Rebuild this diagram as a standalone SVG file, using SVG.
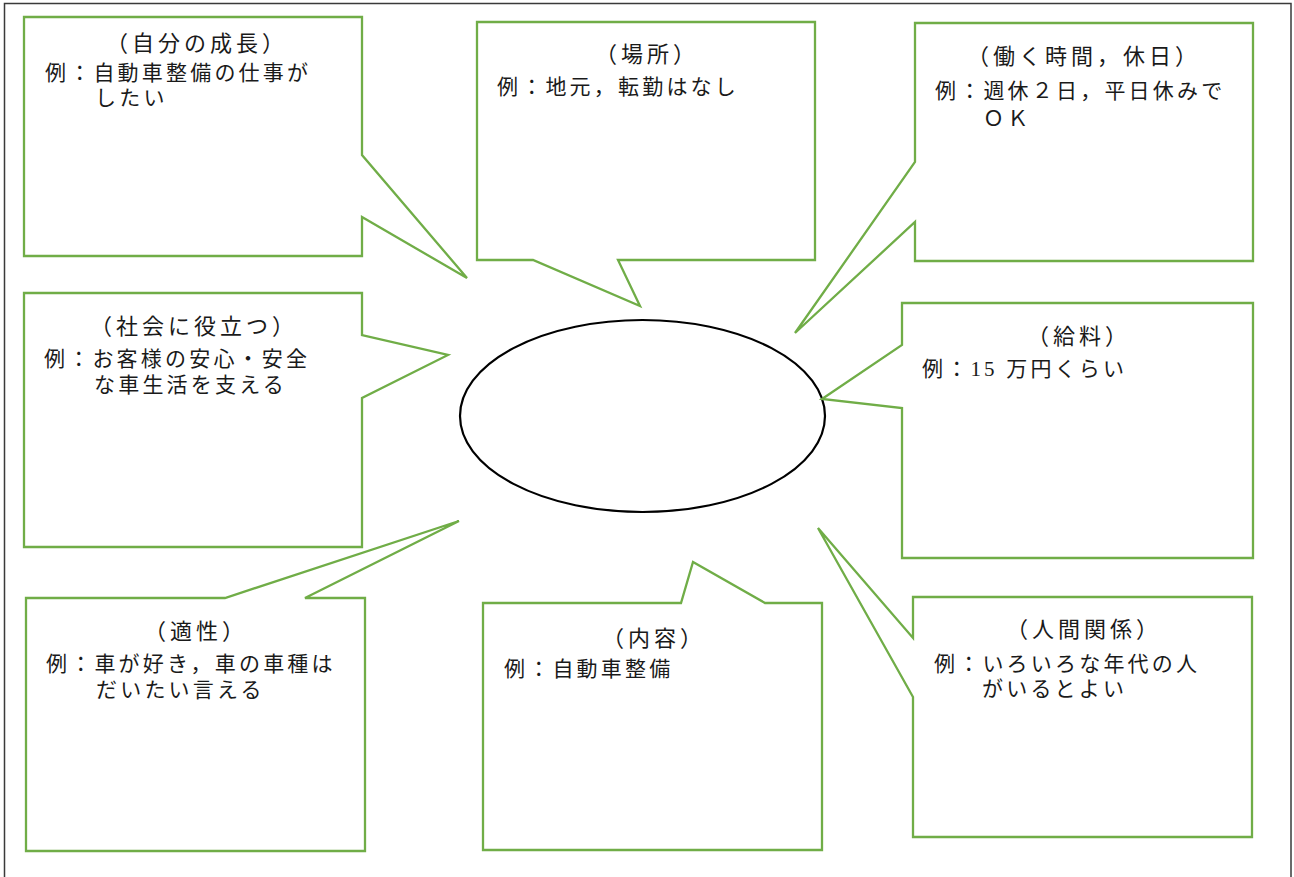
<svg xmlns="http://www.w3.org/2000/svg" width="1294" height="877" viewBox="0 0 1294 877">
<style>
.frame{fill:none;stroke:#3a3a3a;stroke-width:1.5}
.callout{fill:#ffffff;stroke:#70AD47;stroke-width:2.3;stroke-linejoin:miter}
.center{fill:#ffffff;stroke:#000000;stroke-width:2.2}
text{font-family:"Liberation Serif","Noto Sans CJK JP",serif;fill:#1a1a1a}
.title{font-size:22px;letter-spacing:4px;text-anchor:middle}
.body{font-size:21px;letter-spacing:3.2px}
</style>
<rect width="1294" height="877" fill="#ffffff"/>
<rect class="frame" x="4.5" y="3.5" width="1286.5" height="900"/>
<g id="center-node">
<ellipse class="center" cx="642.5" cy="416" rx="182.5" ry="96"/>
</g>
<g id="node-growth">
<path class="callout" d="M24,17 L362,17 L362,155 L467,278 L362,217 L362,256 L24,256 Z"/>
<text class="title" x="197" y="51">（自分の成長）</text>
<text class="body" x="45" y="80">例：自動車整備の仕事が</text>
<text class="body" x="95" y="105">したい</text>
</g>
<g id="node-place">
<path class="callout" d="M477,22 L815,22 L815,260 L618,260 L640,306 L533,260 L477,260 Z"/>
<text class="title" x="647" y="62">（場所）</text>
<text class="body" x="497" y="94">例：地元，転勤はなし</text>
</g>
<g id="node-time">
<path class="callout" d="M915,23 L1253,23 L1253,261 L915,261 L915,222 L795,333 L915,162 Z"/>
<text class="title" x="1084" y="64">（働く時間，休日）</text>
<text class="body" x="935" y="98">例：週休２日，平日休みで</text>
<text class="body" x="983" y="126">ＯＫ</text>
</g>
<g id="node-society">
<path class="callout" d="M24,293 L362,293 L362,335 L448,355 L362,398 L362,547 L24,547 Z"/>
<text class="title" x="194" y="334">（社会に役立つ）</text>
<text class="body" x="44" y="366">例：お客様の安心・安全</text>
<text class="body" x="94" y="392">な車生活を支える</text>
</g>
<g id="node-salary">
<path class="callout" d="M902,303 L1253,303 L1253,558 L902,558 L902,408 L822,399 L902,345 Z"/>
<text class="title" x="1079" y="344">（給料）</text>
<text class="body" x="922" y="376">例：15 万円くらい</text>
</g>
<g id="node-aptitude">
<path class="callout" d="M26,598 L225,598 L459,521 L305,598 L365,598 L365,851 L26,851 Z"/>
<text class="title" x="196" y="639">（適性）</text>
<text class="body" x="46" y="671">例：車が好き，車の車種は</text>
<text class="body" x="96" y="697">だいたい言える</text>
</g>
<g id="node-content">
<path class="callout" d="M483,603 L681,603 L693,562 L765,603 L822,603 L822,850 L483,850 Z"/>
<text class="title" x="654" y="646">（内容）</text>
<text class="body" x="504" y="676">例：自動車整備</text>
</g>
<g id="node-relations">
<path class="callout" d="M913,597 L1252,597 L1252,837 L913,837 L913,697 L818,528 L913,638 Z"/>
<text class="title" x="1084" y="637">（人間関係）</text>
<text class="body" x="934" y="671">例：いろいろな年代の人</text>
<text class="body" x="982" y="696">がいるとよい</text>
</g>
</svg>
